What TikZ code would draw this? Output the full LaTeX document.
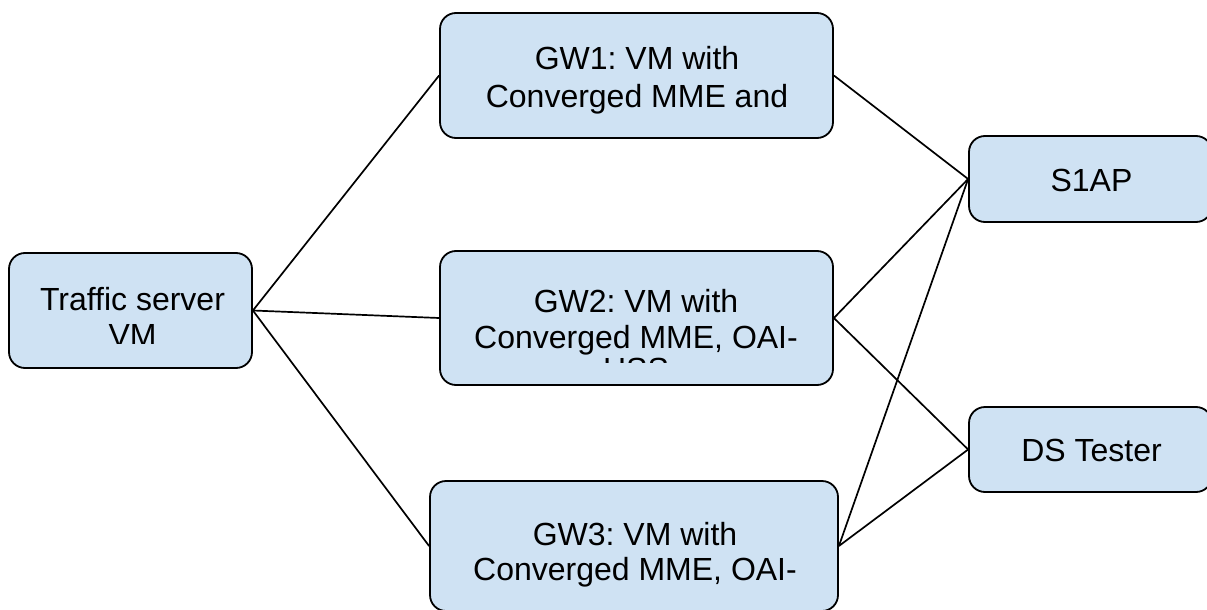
\documentclass[tikz,border=0pt]{standalone}
\usepackage{fontspec}
\setmainfont{Liberation Sans}
\frenchspacing
\definecolor{boxfill}{HTML}{CFE2F3}
\tikzset{
  box/.style={draw=black, line width=1.8pt, fill=boxfill, rounded corners=16pt, inner sep=0pt},
  lbl/.style={font=\fontsize{32}{36}\selectfont, inner sep=0pt, anchor=base},
  link/.style={draw=black, line width=1.7pt}
}
\begin{document}
\begin{tikzpicture}[x=1pt,y=-1pt]
\clip (0,0) rectangle (1207,610);
% boxes
\node[box, minimum width=243pt, minimum height=115pt] (traffic) at (130.5,310.5) {};
\node[box, minimum width=393pt, minimum height=125pt] (gw1) at (636.5,75.5) {};
\node[box, minimum width=393pt, minimum height=134pt] (gw2) at (636.5,318) {};
\node[box, minimum width=408pt, minimum height=130pt] (gw3) at (634,546) {};
\node[box, minimum width=243pt, minimum height=86pt] (s1ap) at (1090.5,179) {};
\node[box, minimum width=243pt, minimum height=85pt] (ds) at (1090.5,449.5) {};
% connectors
\draw[link] (traffic.east) -- (gw1.west);
\draw[link] (traffic.east) -- (gw2.west);
\draw[link] (traffic.east) -- (gw3.west);
\draw[link] (gw1.east) -- (s1ap.west);
\draw[link] (gw2.east) -- (s1ap.west);
\draw[link] (gw2.east) -- (ds.west);
\draw[link] (gw3.east) -- (s1ap.west);
\draw[link] (gw3.east) -- (ds.west);
% labels
\node[lbl] (t1) at (132.5,310) {Traffic server};
\begin{scope}
\clip (20,260) rectangle (240,343);
\node[lbl] (t2) at (132.5,346) {VM};
\end{scope}
\node[lbl] (g1a) at (637,70) {GW1: VM with};
\node[lbl] (g1b) at (637,107) {Converged MME and};
\node[lbl] (g2a) at (636,312) {GW2: VM with};
\node[lbl] (g2b) at (636,348) {Converged MME, OAI-};
\begin{scope}
\clip (450,260) rectangle (820,362);
\node[lbl] (g2c) at (636,380) {HSS};
\end{scope}
\node[lbl] (g3a) at (635,545) {GW3: VM with};
\node[lbl] (g3b) at (635,580) {Converged MME, OAI-};
\node[lbl] (s1) at (1091.5,191) {S1AP};
\node[lbl] (dst) at (1091.5,461) {DS Tester};
\end{tikzpicture}
\end{document}
